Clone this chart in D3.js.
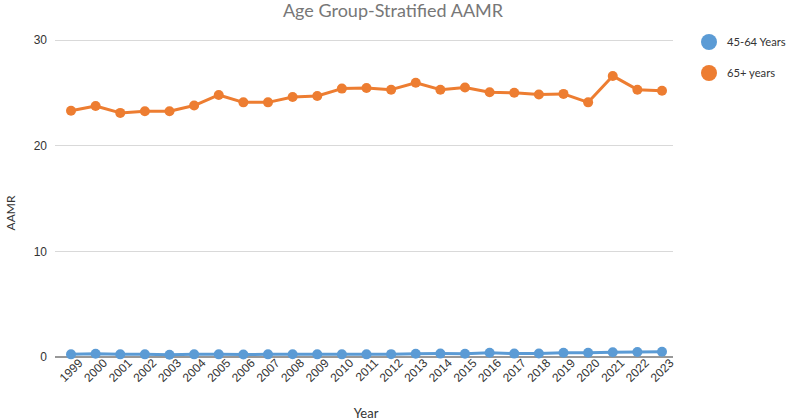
<!DOCTYPE html>
<html lang="en">
<head>
    <meta charset="UTF-8">
    <title>Age Group-Stratified AAMR</title>
    <style>
        body { margin: 0; background: #fff; }
        svg { font-family: Lato, sans-serif; }
        .grid line { stroke: #d9d9d9; stroke-width: 1; shape-rendering: crispEdges; }
        .axis text { font-size: 12px; fill: #333; }
        .axis path, .axis line { display: none; }
    </style>
</head>
<body>
    <svg class="chart"></svg>
    <script src="https://d3js.org/d3.v7.min.js"></script>
    <script>
        const years = ["1999", "2000", "2001", "2002", "2003", "2004", "2005", "2006", "2007", "2008",
            "2009", "2010", "2011", "2012", "2013", "2014", "2015", "2016", "2017", "2018",
            "2019", "2020", "2021", "2022", "2023"];
        const age45to64 = [0.25, 0.3, 0.25, 0.25, 0.22, 0.25, 0.25, 0.24, 0.25, 0.26,
            0.25, 0.25, 0.25, 0.27, 0.3, 0.32, 0.3, 0.4, 0.32, 0.33,
            0.4, 0.4, 0.45, 0.48, 0.5];
        const age65plus = [23.3, 23.75, 23.1, 23.25, 23.25, 23.8, 24.8, 24.1, 24.1, 24.6,
            24.7, 25.4, 25.45, 25.3, 25.95, 25.3, 25.5, 25.05, 25.0, 24.85,
            24.9, 24.1, 26.6, 25.3, 25.2];
        const yTicks = [0, 10, 20, 30];

        const series = [
            { name: "45-64 Years", color: "#5b9bd5", values: age45to64 },
            { name: "65+ years", color: "#ed7d31", values: age65plus }
        ];

        const W = 788, H = 420;
        const margin = { top: 40, right: 115, bottom: 63, left: 55 };
        const width = W - margin.left - margin.right,
            height = H - margin.top - margin.bottom;

        const svg = d3.select(".chart").attr("width", W).attr("height", H);
        const g = svg.append("g").attr("transform", `translate(${margin.left},${margin.top})`);

        const x = d3.scalePoint().domain(years).range([16, width - 11]);
        const y = d3.scaleLinear().domain([0, 30]).range([height, 0]);

        // gridlines
        g.append("g").attr("class", "grid")
            .selectAll("line")
            .data(yTicks.filter(d => d > 0))
            .join("line")
            .attr("x1", 0).attr("x2", width)
            .attr("y1", d => y(d)).attr("y2", d => y(d));

        g.append("line")
            .attr("x1", 0).attr("x2", width)
            .attr("y1", y(0)).attr("y2", y(0))
            .attr("stroke", "#333").attr("stroke-width", 1.2);

        g.append("g").attr("class", "axis")
            .call(d3.axisLeft(y).tickValues(yTicks).tickSize(0).tickPadding(8));

        g.append("g").attr("class", "axis")
            .attr("transform", `translate(0,${height})`)
            .call(d3.axisBottom(x).tickSize(0).tickPadding(6))
            .selectAll("text")
            .attr("text-anchor", "end")
            .attr("dx", "0.3em")
            .attr("dy", "0.6em")
            .attr("transform", "rotate(-45)");

        const line = d3.line()
            .x((d, i) => x(years[i]))
            .y(d => y(d));

        series.forEach(s => {
            g.append("path")
                .datum(s.values)
                .attr("fill", "none")
                .attr("stroke", s.color)
                .attr("stroke-width", 3)
                .attr("stroke-linejoin", "round")
                .attr("d", line);

            g.append("g").selectAll("circle")
                .data(s.values)
                .join("circle")
                .attr("cx", (d, i) => x(years[i]))
                .attr("cy", d => y(d))
                .attr("r", 5)
                .attr("fill", s.color);
        });

        // title and axis labels
        svg.append("text")
            .attr("x", 393).attr("y", 17)
            .attr("text-anchor", "middle")
            .attr("font-size", 18)
            .attr("fill", "#777")
            .text("Age Group-Stratified AAMR");

        svg.append("text")
            .attr("transform", "translate(15,213) rotate(-90)")
            .attr("text-anchor", "middle")
            .attr("font-size", 12)
            .attr("fill", "#333")
            .text("AAMR");

        svg.append("text")
            .attr("x", 366).attr("y", 418)
            .attr("text-anchor", "middle")
            .attr("font-size", 13)
            .attr("fill", "#333")
            .text("Year");

        // legend
        const legend = svg.append("g").attr("transform", "translate(709,42)");
        series.forEach((s, i) => {
            const row = legend.append("g").attr("transform", `translate(0,${i * 31})`);
            row.append("circle").attr("r", 8).attr("fill", s.color);
            row.append("text")
                .attr("x", 18).attr("dy", "0.35em")
                .attr("font-size", 11.2)
                .attr("fill", "#333")
                .text(s.name);
        });
    </script>
</body>
</html>
